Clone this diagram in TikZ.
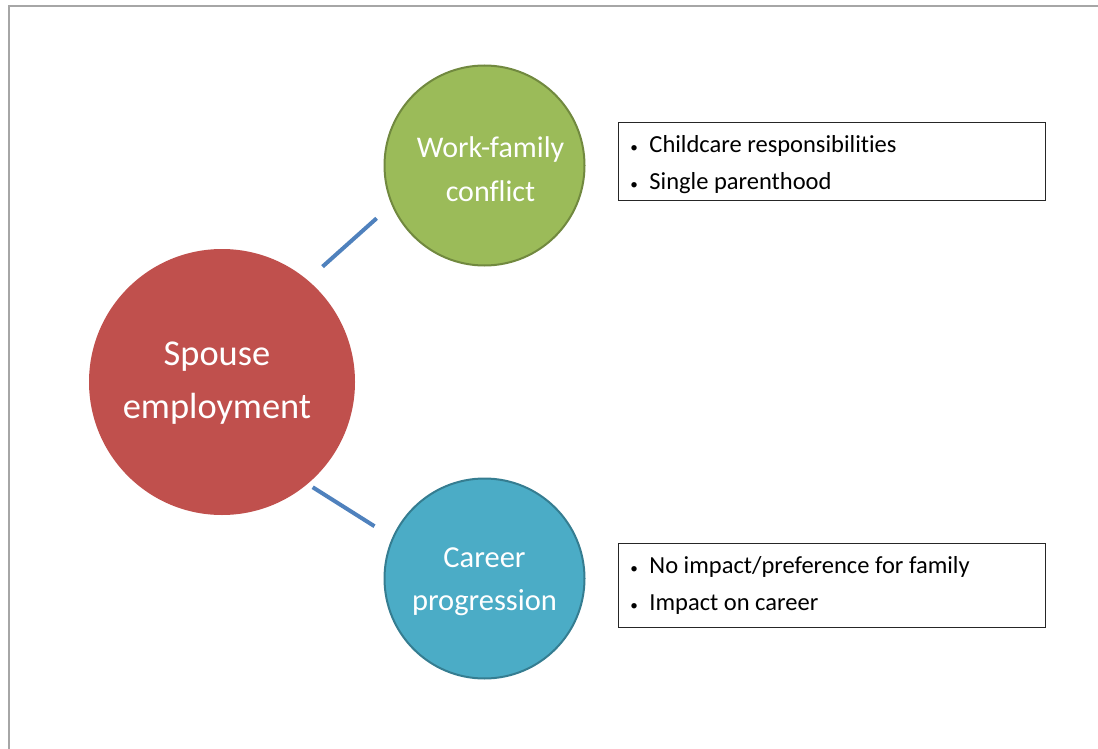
\documentclass[tikz,border=0pt]{standalone}
\usepackage{fontspec}
\setmainfont{Carlito}[Ligatures={NoCommon}]
\usetikzlibrary{positioning}

\definecolor{spousered}{HTML}{C0504D}
\definecolor{workgreen}{HTML}{9BBB59}
\definecolor{workedge}{HTML}{71893F}
\definecolor{careerblue}{HTML}{4BACC6}
\definecolor{careeredge}{HTML}{357D91}
\definecolor{linkblue}{HTML}{4F81BD}
\definecolor{framegray}{HTML}{A6A6A6}

\newcommand{\bul}{\makebox[21pt][l]{\hspace*{2pt}\scalebox{0.62}{\textbullet}}}

\begin{document}
\begin{tikzpicture}[x=1pt, y=-1pt,
    bubble/.style={circle, inner sep=0pt},
    bubbletext/.style={text=white, align=center, inner sep=0pt},
    notebox/.style={draw=black!85, line width=0.9pt, rectangle, anchor=north west,
        align=flush left, inner xsep=10pt, text width=407pt,
        font=\fontsize{24.5}{37}\selectfont},
    link/.style={draw=linkblue, line width=4pt}]
    % Page
    \useasboundingbox (0,0) rectangle (1098,749);
    \draw[framegray, line width=2pt] (9,749) -- (9,6.5) -- (1098,6.5);

    % Circles
    \node[bubble, fill=spousered, minimum size=266pt] (spouse) at (222,382) {};
    \node[bubble, fill=workgreen, draw=workedge, line width=2pt, minimum size=200pt] (work) at (484.5,165.5) {};
    \node[bubble, fill=careerblue, draw=careeredge, line width=2pt, minimum size=200pt] (career) at (484.5,578.5) {};

    % Circle texts
    \node[bubbletext, font=\fontsize{36.4}{53}\selectfont] (spousetext)
        at ([shift={(-5,1)}]spouse.center) {Spouse\\employment};
    \node[bubbletext, font=\fontsize{30}{44}\selectfont] (worktext)
        at ([shift={(6,4)}]work.center) {Work-family\\conflict};
    \node[bubbletext, font=\fontsize{30.5}{43}\selectfont] (careertext)
        at ([shift={(0,3)}]career.center) {Career\\progression};

    % Links
    \draw[link, shorten <=20pt, shorten >=20pt] (spouse.50.6) -- (work.203.7);
    \draw[link, shorten <=6pt, shorten >=21pt] (spouse.310.2) -- (career.156.4);

    % Notes
    \node[notebox, minimum height=78pt] (worknote) at (618,122)
        {\rule{0pt}{23pt}\bul Childcare responsibilities\\\bul Single parenthood};
    \node[notebox, minimum height=84pt] (careernote) at (618,543)
        {\bul No impact/preference for family\\\bul Impact on career};
\end{tikzpicture}
\end{document}
